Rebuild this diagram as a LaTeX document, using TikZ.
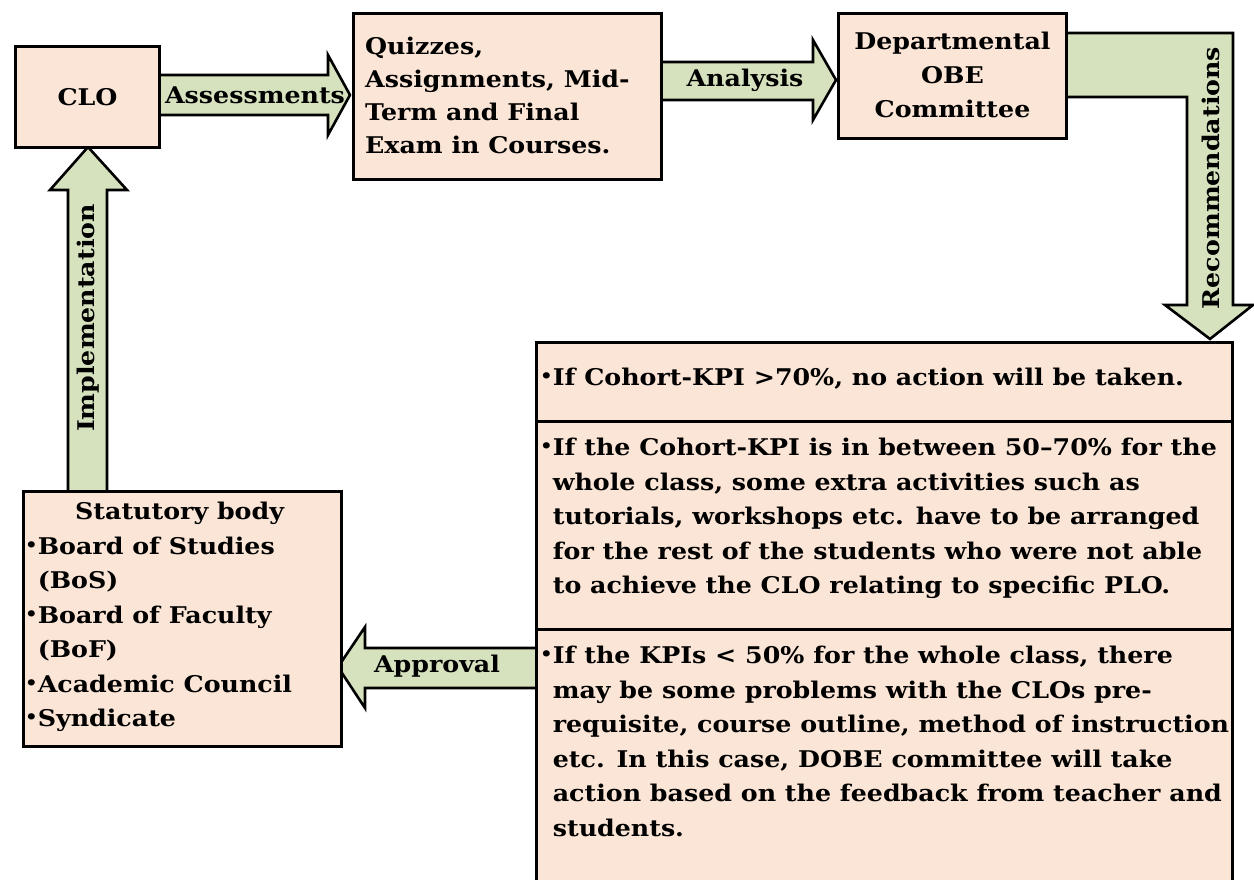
\documentclass[tikz,border=0pt]{standalone}
\usepackage{fontspec}
\setmainfont{DejaVu Serif}[FakeStretch=1.1]
\usetikzlibrary{calc}
\definecolor{boxfill}{HTML}{FBE5D6}
\definecolor{arrowfill}{HTML}{D6E2BE}
% small raised bullet used in the lists
\newcommand{\bul}{\raisebox{0.12em}{\scalebox{0.78}{\textbullet}}}

\begin{document}
\begin{tikzpicture}[x=1pt,y=-1pt,
  box/.style={draw=black, line width=3pt, fill=boxfill, inner sep=0pt},
  blockarrow/.style={draw=black, line width=2.6pt, fill=arrowfill, line join=miter},
  lbl/.style={font=\bfseries\fontsize{23}{26}\selectfont, inner sep=0pt},
  body/.style={font=\bfseries\fontsize{23}{34.5}\selectfont, align=left, inner sep=0pt, anchor=north west}]
\useasboundingbox (0,0) rectangle (1254,880);
\clip (0,0) rectangle (1254,880);

% ---------- block arrows (drawn first, boxes sit on top) ----------
% Assessments: CLO -> Quizzes
\draw[blockarrow] (150,75) -- (328,75) -- (328,55) -- (350,95) -- (328,135) -- (328,115) -- (150,115) -- cycle;
% Analysis: Quizzes -> Committee
\draw[blockarrow] (652,62) -- (813,62) -- (813,40) -- (836,80) -- (813,120) -- (813,100) -- (652,100) -- cycle;
% Recommendations: Committee -> decision boxes (bent)
\draw[blockarrow] (1058,33) -- (1233,33) -- (1233,305) -- (1253,305) -- (1210,339) -- (1165,305) -- (1187,305) -- (1187,97) -- (1058,97) -- cycle;
% Approval: decision boxes -> statutory body
\draw[blockarrow] (540,648) -- (365,648) -- (365,627) -- (338,667) -- (365,708) -- (365,688) -- (540,688) -- cycle;
% Implementation: statutory body -> CLO
\draw[blockarrow] (68,497) -- (68,190) -- (50,190) -- (88,147) -- (127,190) -- (107,190) -- (107,497) -- cycle;

% ---------- boxes ----------
\node[box, anchor=north west, minimum width=144, minimum height=101, font=\bfseries\fontsize{23}{26}\selectfont] (clo) at (14,45) {CLO};

\node[box, anchor=north west, minimum width=308, minimum height=166] (quiz) at (352,12) {};
\node[body, font=\bfseries\fontsize{23}{33}\selectfont] (quiztext) at ($(quiz.north west)+(13,25)$)
  {Quizzes,\\Assignments, Mid-\\Term and Final\\Exam in Courses.};

\node[box, anchor=north west, minimum width=228, minimum height=125] (dobe) at (837,12) {};
\node[body, anchor=center, align=center, font=\bfseries\fontsize{23}{34}\selectfont] (dobetext) at ($(dobe.center)+(0,-1)$)
  {Departmental\\OBE\\Committee};

\node[box, anchor=north west, minimum width=318, minimum height=255] (stat) at (22,490) {};
\node[body, align=left] (stattext) at ($(stat.north west)+(3,12)$)
  {\hspace*{50pt}Statutory body\\
   \bul Board of Studies\\
   \phantom{\bul}(BoS)\\
   \bul Board of Faculty\\
   \phantom{\bul}(BoF)\\
   \bul Academic Council\\
   \bul Syndicate};

\node[box, anchor=north west, minimum width=696, minimum height=79] (r1) at (535,341) {};
\node[box, anchor=north west, minimum width=696, minimum height=208] (r2) at (535,420) {};
\node[box, anchor=north west, minimum width=696, minimum height=260] (r3) at (535,628) {};

\node[body] (r1text) at ($(r1.north west)+(5,27)$)
  {\bul If Cohort-KPI >70\%, no action will be taken.};
\node[body] (r2text) at ($(r2.north west)+(5,18)$)
  {\bul If the Cohort-KPI is in between 50–70\% for the\\
   \phantom{\bul}whole class, some extra activities such as\\
   \phantom{\bul}tutorials, workshops etc. have to be arranged\\
   \phantom{\bul}for the rest of the students who were not able\\
   \phantom{\bul}to achieve the CLO relating to specific PLO.};
\node[body] (r3text) at ($(r3.north west)+(5,18)$)
  {\bul If the KPIs < 50\% for the whole class, there\\
   \phantom{\bul}may be some problems with the CLOs pre-\\
   \phantom{\bul}requisite, course outline, method of instruction\\
   \phantom{\bul}etc. In this case, DOBE committee will take\\
   \phantom{\bul}action based on the feedback from teacher and\\
   \phantom{\bul}students.};

% ---------- arrow labels ----------
\node[lbl] (lassess) at (255,95) {Assessments};
\node[lbl] (lanalysis) at (745,80) {Analysis};
\node[lbl, rotate=90] (lrec) at (1211,178) {Recommendations};
\node[lbl] (lapprove) at (437,666) {Approval};
\node[lbl, rotate=90] (limpl) at (88,318) {Implementation};
\end{tikzpicture}
\end{document}
